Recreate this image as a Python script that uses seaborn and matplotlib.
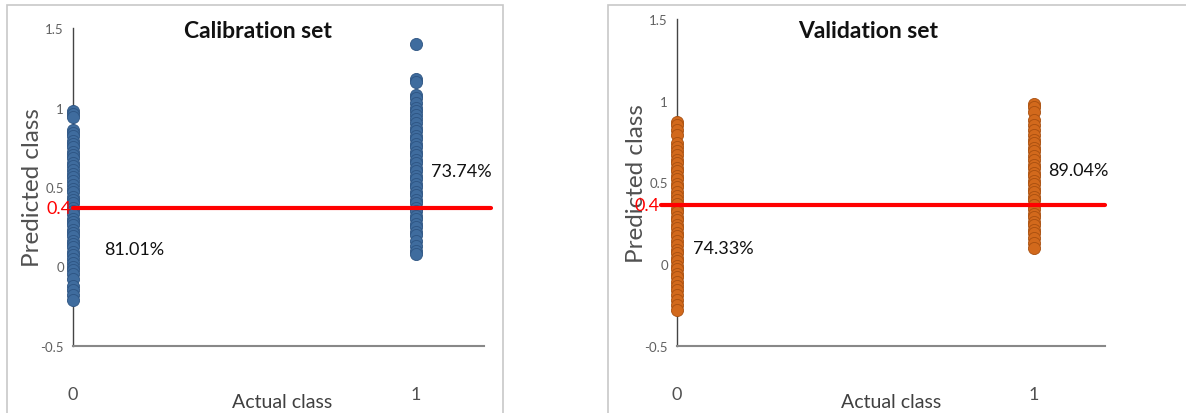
import matplotlib
matplotlib.use("Agg")
import matplotlib.pyplot as plt
import seaborn as sns
import pandas as pd
from matplotlib.patches import Rectangle

# data
cal_class0 = [0.98, 0.96, 0.94, 0.86, 0.84, 0.82, 0.79, 0.77, 0.75, 0.72, 0.70, 0.68,
              0.65, 0.63, 0.61, 0.58, 0.56, 0.54, 0.51, 0.49, 0.47, 0.44, 0.42, 0.40,
              0.37, 0.35, 0.33, 0.30, 0.28, 0.26, 0.23, 0.21, 0.19, 0.16, 0.14, 0.12,
              0.09, 0.07, 0.05, 0.02, 0.00, -0.02, -0.05, -0.08, -0.12, -0.15, -0.18, -0.21]
cal_class1 = [1.40, 1.18, 1.16, 1.08, 1.06, 1.03, 1.00, 0.98, 0.95, 0.93, 0.90, 0.87,
              0.85, 0.82, 0.80, 0.77, 0.75, 0.72, 0.70, 0.67, 0.65, 0.62, 0.60, 0.57,
              0.55, 0.52, 0.50, 0.47, 0.45, 0.42, 0.40, 0.37, 0.35, 0.32, 0.30, 0.27,
              0.25, 0.22, 0.20, 0.16, 0.13, 0.10, 0.08]
val_class0 = [0.87, 0.85, 0.82, 0.79, 0.74, 0.72, 0.69, 0.67, 0.64, 0.62, 0.59, 0.57,
              0.54, 0.52, 0.49, 0.47, 0.44, 0.42, 0.39, 0.37, 0.34, 0.32, 0.29, 0.27,
              0.24, 0.22, 0.19, 0.17, 0.14, 0.12, 0.09, 0.07, 0.04, 0.02, -0.01, -0.03,
              -0.06, -0.08, -0.11, -0.13, -0.16, -0.19, -0.22, -0.25, -0.28]
val_class1 = [0.98, 0.96, 0.93, 0.88, 0.85, 0.82, 0.79, 0.76, 0.74, 0.71, 0.69, 0.66,
              0.64, 0.61, 0.59, 0.56, 0.54, 0.51, 0.49, 0.46, 0.44, 0.41, 0.39, 0.36,
              0.34, 0.31, 0.29, 0.26, 0.24, 0.21, 0.19, 0.16, 0.13, 0.10]

cal_acc = ["81.01%", "73.74%"]
val_acc = ["74.33%", "89.04%"]
cal_cut = 0.37   # drawn position of the "0.4" line
val_cut = 0.36
y_ticks = [-0.5, 0, 0.5, 1, 1.5]
y_tick_labels = ["-0.5", "0", "0.5", "1", "1.5"]

sns.set_theme(style="white")
plt.rcParams['font.family'] = ['Lato', 'DejaVu Sans']

fig = plt.figure(figsize=(11.86, 4.14), dpi=100)

# panel frames
fig.patches.append(Rectangle((7 / 1186, -0.1), 496 / 1186, 1.1 - 6 / 414,
                             transform=fig.transFigure, fill=False,
                             edgecolor='#c8c8c8', linewidth=1.2))
fig.patches.append(Rectangle((608 / 1186, -0.1), 0.7, 1.1 - 6 / 414,
                             transform=fig.transFigure, fill=False,
                             edgecolor='#c8c8c8', linewidth=1.2))

ax1 = fig.add_axes([73 / 1186, 67 / 414, 418 / 1186, 318 / 414])
ax2 = fig.add_axes([677 / 1186, 67 / 414, 428 / 1186, 327 / 414])


def draw_panel(ax, class0, class1, color, edge, acc, cut, xmax, line_from, title, tx,
               acc_pos):
    df = pd.DataFrame({
        'actual': [0] * len(class0) + [1] * len(class1),
        'predicted': class0 + class1,
    })
    sns.scatterplot(data=df, x='actual', y='predicted', ax=ax, color=color,
                    edgecolor=edge, linewidth=0.6, s=76, clip_on=False, zorder=3)
    ax.plot([line_from, xmax], [cut, cut], color='#ff0000', linewidth=3,
            clip_on=False, zorder=4)
    ax.text(line_from - 0.003, cut, "0.4", color='#ff0000', fontsize=13,
            ha='right', va='center')
    ax.set_xlim(0, xmax)
    ax.set_ylim(-0.5, 1.5)
    ax.set_xticks([0, 1])
    ax.set_xticklabels(["0", "1"])
    ax.set_yticks(y_ticks)
    ax.set_yticklabels(y_tick_labels)
    ax.tick_params(axis='x', length=4.5, width=1, color='#888888', pad=24,
                   labelsize=13, labelcolor='#505050', direction='out')
    ax.tick_params(axis='y', length=3.6, width=1, color='#555555', pad=3,
                   labelsize=9.5, labelcolor='#606060', direction='out')
    for side in ['top', 'right']:
        ax.spines[side].set_visible(False)
    ax.spines['left'].set_color('#444444')
    ax.spines['left'].set_linewidth(1)
    ax.spines['bottom'].set_color('#888888')
    ax.spines['bottom'].set_linewidth(1.5)
    ax.spines['bottom'].set_bounds(0, 1.2)
    ax.set_xlabel("Actual class", fontsize=14, color='#404040', labelpad=-6)
    ax.set_ylabel("Predicted class", fontsize=17.5, color='#505050', labelpad=-2)
    ax.patch.set_alpha(0)
    for (x, y), label in zip(acc_pos, acc):
        ax.text(x, y, label, fontsize=13, color='#111111', ha='center', va='center')
    fig.text(tx, 1 - 32 / 414, title, fontsize=16.5, fontweight='bold',
             ha='center', va='center', color='#111111')


draw_panel(ax1, cal_class0, cal_class1, '#3f6c9e', '#2d5482', cal_acc, cal_cut,
           1.22, 0.0, "Calibration set", 258 / 1186,
           [(0.18, 0.113), (1.134, 0.60)])
draw_panel(ax2, val_class0, val_class1, '#d2691c', '#a84f0f', val_acc, val_cut,
           1.2, -0.045, "Validation set", 868 / 1186,
           [(0.129, 0.10), (1.126, 0.575)])

fig.savefig("out.png", dpi=100)
